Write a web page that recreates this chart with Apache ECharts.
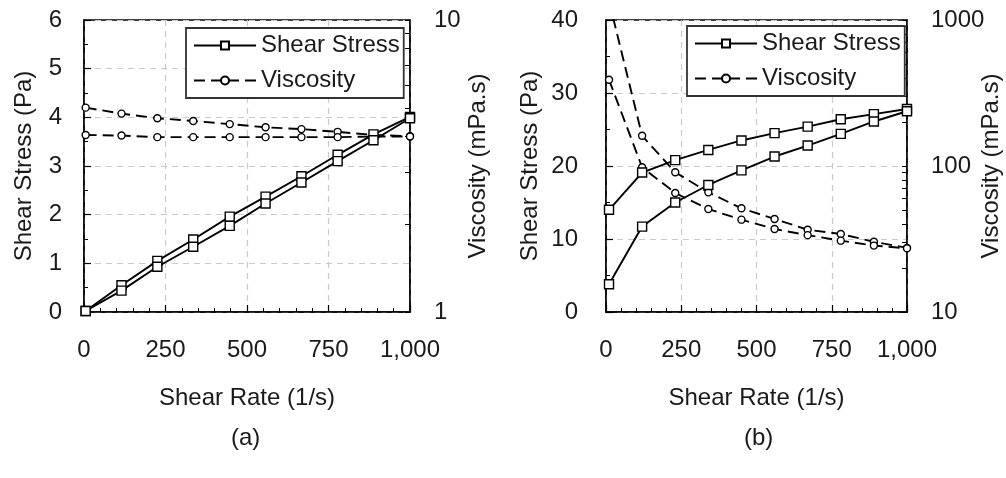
<!DOCTYPE html>
<html>
<head>
<meta charset="utf-8">
<title>Shear stress and viscosity vs shear rate</title>
<script src="https://cdn.jsdelivr.net/npm/echarts@6/dist/echarts.min.js"></script>
<style>
  html, body { margin: 0; padding: 0; background: #fff; }
  #chart { width: 1006px; height: 478px; }
</style>
</head>
<body>
<div id="chart"></div>
<script>
// Panel (a): two runs of a near-Newtonian fluid
const rateA = [5, 115, 225, 335, 447, 557, 667, 778, 888, 1000];
const stressA1 = [0.02, 0.55, 1.05, 1.49, 1.96, 2.37, 2.79, 3.23, 3.65, 4.01];
const stressA2 = [0.02, 0.44, 0.93, 1.34, 1.77, 2.23, 2.66, 3.10, 3.53, 3.98];
const viscA1 = [5.01, 4.78, 4.61, 4.51, 4.40, 4.29, 4.23, 4.14, 4.04, 4.00];
const viscA2 = [4.04, 4.02, 3.97, 3.97, 3.97, 3.97, 3.97, 3.97, 3.99, 3.99];

// Panel (b): two runs of a shear-thinning fluid
const rateB = [10, 120, 230, 340, 450, 560, 670, 780, 890, 1000];
const stressB1 = [14.0, 19.1, 20.8, 22.2, 23.5, 24.5, 25.4, 26.4, 27.1, 27.8];
const stressB2 = [3.8, 11.7, 15.0, 17.4, 19.4, 21.3, 22.8, 24.4, 26.1, 27.5];
const viscB1 = [1350, 161, 90.6, 66, 51.3, 43.4, 36.6, 34.2, 30.3, 27.5];
const viscB2 = [390, 98, 65.3, 50.7, 42.9, 37.0, 33.6, 30.8, 28.5, 27.3];

// Tick labels
const rateTicks = [0, 250, 500, 750, 1000];
const rateTickLabels = ['0', '250', '500', '750', '1,000'];
const viscTicksA = [1, 10];
const viscTicksB = [10, 100, 1000];

const FONT = 'Liberation Sans, Arial, Helvetica, sans-serif';
const FS = 24;
const INK = '#1a1a1a';

function pairs(xs, ys) { return xs.map((x, i) => [x, ys[i]]); }
function logMinor(lo, hi) {
  const out = [];
  for (let d = lo; d < hi; d *= 10) for (let k = 1; k <= 10; k++) out.push(d * k);
  return out.filter((v, i, a) => a.indexOf(v) === i);
}

const gridLine = { show: true, lineStyle: { color: '#cacaca', type: [6, 5], width: 1.2 } };
const axisLine = { show: true, onZero: false, lineStyle: { color: '#000', width: 1.5 } };
const tick = { show: true, inside: true, length: 7, lineStyle: { color: '#000', width: 1.2 } };
const minor = { show: true, length: 4, lineStyle: { color: '#000', width: 1 } };
const lbl = { color: INK, fontFamily: FONT, fontSize: FS };
const nameStyle = { color: INK, fontFamily: FONT, fontSize: FS };

function xAxisFor(gi) {
  return {
    type: 'value', gridIndex: gi, min: 0, max: 1000, interval: 250,
    name: 'Shear Rate (1/s)', nameLocation: 'middle', nameGap: 74, nameMoveOverlap: false, nameTextStyle: nameStyle,
    axisLine, axisTick: tick, minorTick: Object.assign({ splitNumber: 5 }, minor),
    splitLine: gridLine,
    axisLabel: Object.assign({ margin: 26, formatter: v => rateTickLabels[rateTicks.indexOf(v)] }, lbl)
  };
}
function stressAxis(gi, max, interval, gap, margin) {
  return {
    type: 'value', gridIndex: gi, position: 'left', min: 0, max, interval,
    name: 'Shear Stress (Pa)', nameLocation: 'middle', nameGap: gap, nameMoveOverlap: false, nameTextStyle: nameStyle,
    axisLine, axisTick: tick, minorTick: Object.assign({ splitNumber: 2 }, minor),
    splitLine: gridLine,
    axisLabel: Object.assign({ margin }, lbl)
  };
}
function viscAxis(gi, min, max, labels, gap) {
  return {
    type: 'log', logBase: 10, gridIndex: gi, position: 'right', min, max,
    name: 'Viscosity (mPa.s)', nameLocation: 'middle', nameGap: gap, nameMoveOverlap: false, nameTextStyle: nameStyle,
    axisLine, splitLine: { show: false },
    axisTick: { show: true, inside: true, length: 5, customValues: logMinor(min, max), lineStyle: { color: '#000', width: 1 } },
    minorTick: { show: false },
    axisLabel: Object.assign({ margin: 24, customValues: labels, formatter: v => String(v) }, lbl)
  };
}

const stressLine = { color: '#000', width: 1.9, type: 'solid' };
const viscLine = { color: '#000', width: 1.9, type: [11, 6] };
const openMark = { color: '#fff', borderColor: '#000', borderWidth: 1.4 };

function stressSeries(xi, yi, xs, ys) {
  return { type: 'line', name: 'Shear Stress', xAxisIndex: xi, yAxisIndex: yi, data: pairs(xs, ys),
    symbol: 'rect', symbolSize: 9, showAllSymbol: true, lineStyle: stressLine, itemStyle: openMark, z: 3, animation: false };
}
function viscSeries(xi, yi, xs, ys) {
  return { type: 'line', name: 'Viscosity', xAxisIndex: xi, yAxisIndex: yi, data: pairs(xs, ys),
    symbol: 'circle', symbolSize: 7, showAllSymbol: true, lineStyle: viscLine, itemStyle: openMark, z: 2, animation: false };
}
function legendAt(left, top) {
  return {
    left, top, orient: 'vertical', data: ['Shear Stress', 'Viscosity'],
    itemWidth: 62, itemHeight: 10, itemGap: 10,
    padding: [5, 4, 5, 7],
    backgroundColor: '#fff', borderColor: '#333', borderWidth: 1.8,
    textStyle: { color: INK, fontFamily: FONT, fontSize: FS, lineHeight: 25 },
    selectedMode: false
  };
}

const chart = echarts.init(document.getElementById('chart'), null, { renderer: 'canvas' });
chart.setOption({
  backgroundColor: '#fff',
  animation: false,
  grid: [
    { left: 84, top: 20, width: 326, height: 292, outerBoundsMode: 'none', containLabel: false,
      show: true, borderColor: '#000', borderWidth: 1.5, backgroundColor: 'transparent' },
    { left: 606, top: 20, width: 301, height: 292, outerBoundsMode: 'none', containLabel: false,
      show: true, borderColor: '#000', borderWidth: 1.5, backgroundColor: 'transparent' }
  ],
  xAxis: [xAxisFor(0), xAxisFor(1)],
  yAxis: [
    stressAxis(0, 6, 1, 48, 22),
    viscAxis(0, 1, 10, viscTicksA, 56),
    stressAxis(1, 40, 10, 64, 28),
    viscAxis(1, 10, 1000, viscTicksB, 72)
  ],
  legend: [legendAt(186, 28), legendAt(687, 26)],
  series: [
    viscSeries(0, 1, rateA, viscA1),
    viscSeries(0, 1, rateA, viscA2),
    stressSeries(0, 0, rateA, stressA1),
    stressSeries(0, 0, rateA, stressA2),
    viscSeries(1, 3, rateB, viscB1),
    viscSeries(1, 3, rateB, viscB2),
    stressSeries(1, 2, rateB, stressB1),
    stressSeries(1, 2, rateB, stressB2)
  ],
  graphic: [
    { type: 'text', left: 231, top: 426, style: { text: '(a)', fill: INK, font: FS + 'px ' + FONT } },
    { type: 'text', left: 744, top: 426, style: { text: '(b)', fill: INK, font: FS + 'px ' + FONT } }
  ]
});
</script>
</body>
</html>
